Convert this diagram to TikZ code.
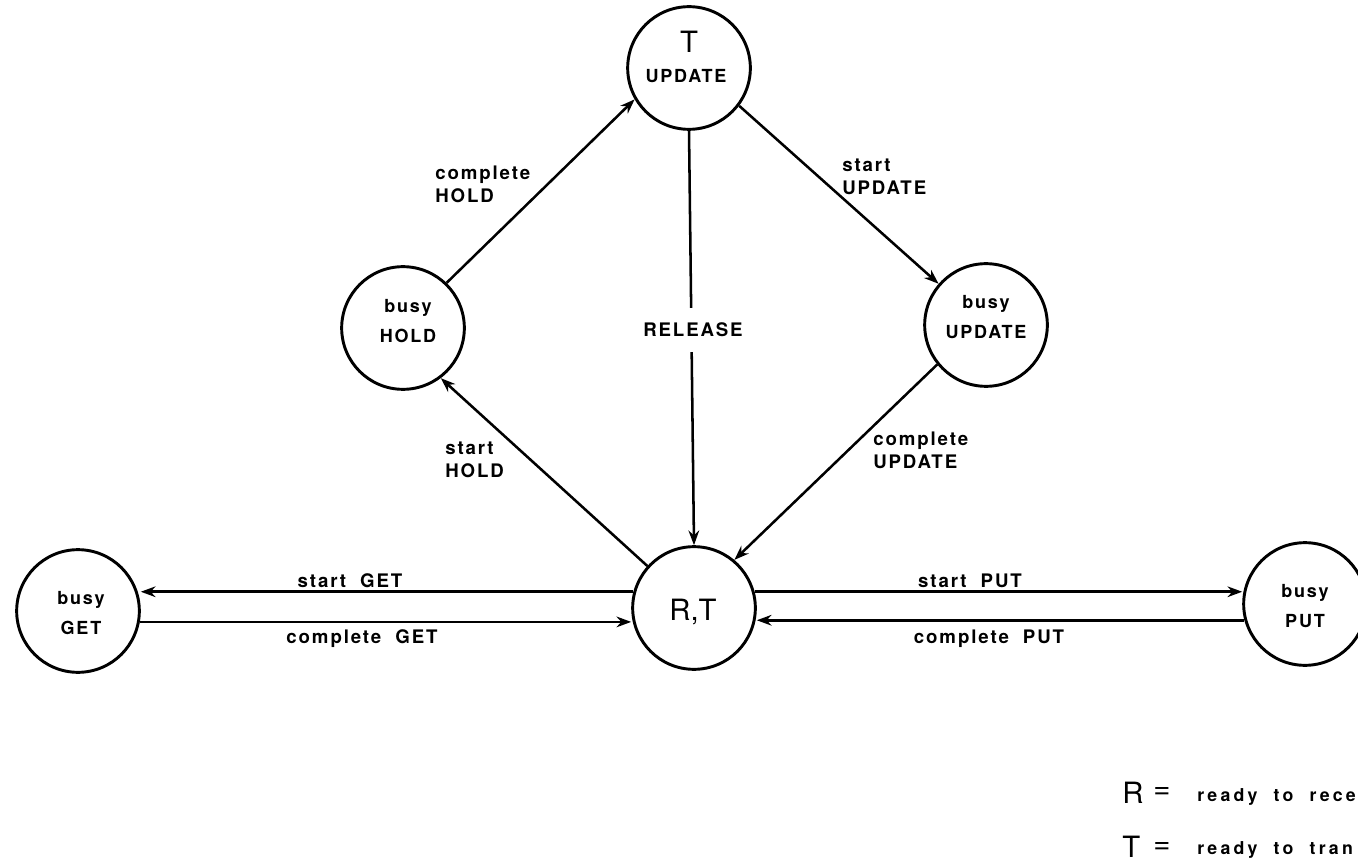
\documentclass[tikz,border=0pt]{standalone}
\usepackage{fontspec}
\setmainfont{TeX Gyre Heros}
\newfontfamily\lblfont[LetterSpace=10]{TeX Gyre Heros}
\newfontfamily\legfont[LetterSpace=18]{TeX Gyre Heros}
\usetikzlibrary{arrows.meta}
\tikzset{
  state/.style={circle, draw, line width=2.2pt, minimum size=92pt, inner sep=0pt},
  lbl/.style={font=\lblfont\bfseries\fontsize{14}{17}\selectfont, inner sep=0pt, align=left},
  inlbl/.style={font=\lblfont\bfseries\fontsize{13.5}{22}\selectfont, inner sep=0pt, align=center},
  big/.style={font=\fontsize{22}{24}\selectfont, inner sep=0pt},
  leg/.style={font=\legfont\bfseries\fontsize{13.3}{15}\selectfont, inner sep=0pt},
  arr/.style={line width=1.9pt, -{Stealth[length=11pt,width=8pt]}},
}
\begin{document}
\begin{tikzpicture}[x=0.75pt, y=-0.75pt]
\useasboundingbox (0,0) rectangle (1358,862);
\clip (0,0) rectangle (1358,862);
% states
\node[state] (tupd) at (689,68) {};
\node[state] (hold) at (403,328) {};
\node[state] (bupd) at (986,325) {};
\node[state] (rt) at (694,608) {};
\node[state] (get) at (78,611) {};
\node[state] (put) at (1305,604) {};
% state texts
\node[big] (tupdT) at (689,42) {T};
\node[inlbl] (tupdU) at (686,76) {UPDATE};
\node[inlbl] (holdt) at (408,321) {busy\\HOLD};
\node[inlbl] (bupdt) at (986,317) {busy\\UPDATE};
\node[big] (rtt) at (693,612) {R,T};
\node[inlbl] (gett) at (81,613) {busy\\GET};
\node[inlbl] (putt) at (1305,606) {busy\\PUT};
% connectors
\draw[arr] (hold.46) -- (tupd.210);
\draw[arr] (tupd.-37) -- (bupd.139);
\draw[arr] (tupd.south) -- (rt.north);
\draw[arr] (bupd.219) -- (rt.50);
\draw[arr] (rt.138) -- (hold.-53);
\draw[arr] (rt.165) -- (rt.165 -| get.east);
\draw[arr] (get.-10) -- (get.-10 -| rt.west);
\draw[arr] (rt.15) -- (rt.15 -| put.west);
\draw[arr] (put.195) -- (put.195 -| rt.east);
% connector labels
\node[lbl, anchor=west] (l1) at (435,184) {complete\\HOLD};
\node[lbl, anchor=west] (l2) at (842,177) {start\\UPDATE};
\node[lbl, fill=white, inner xsep=2pt, inner ysep=11pt] (l3) at (693,330) {RELEASE};
\node[lbl, anchor=west] (l4) at (445,460) {start\\HOLD};
\node[lbl, anchor=west] (l5) at (873,450) {complete\\UPDATE};
\node[lbl, anchor=base] (l6) at (350,587) {start~~GET};
\node[lbl, anchor=base] (l7) at (362,643) {complete~~GET};
\node[lbl, anchor=base] (l8) at (970,587) {start~~PUT};
\node[lbl, anchor=base] (l9) at (989,643) {complete~~PUT};
% legend
\node[big, anchor=base west] (legR) at (1122,803) {R};
\node[big] (legRe) at (1162,793) {=};
\node[leg, anchor=base west] (legRt) at (1197,801) {ready~~to~~rece};
\node[big, anchor=base west] (legT) at (1122,857) {T};
\node[big] (legTe) at (1162,848) {=};
\node[leg, anchor=base west] (legTt) at (1197,854) {ready~~to~~tran};
\end{tikzpicture}
\end{document}
